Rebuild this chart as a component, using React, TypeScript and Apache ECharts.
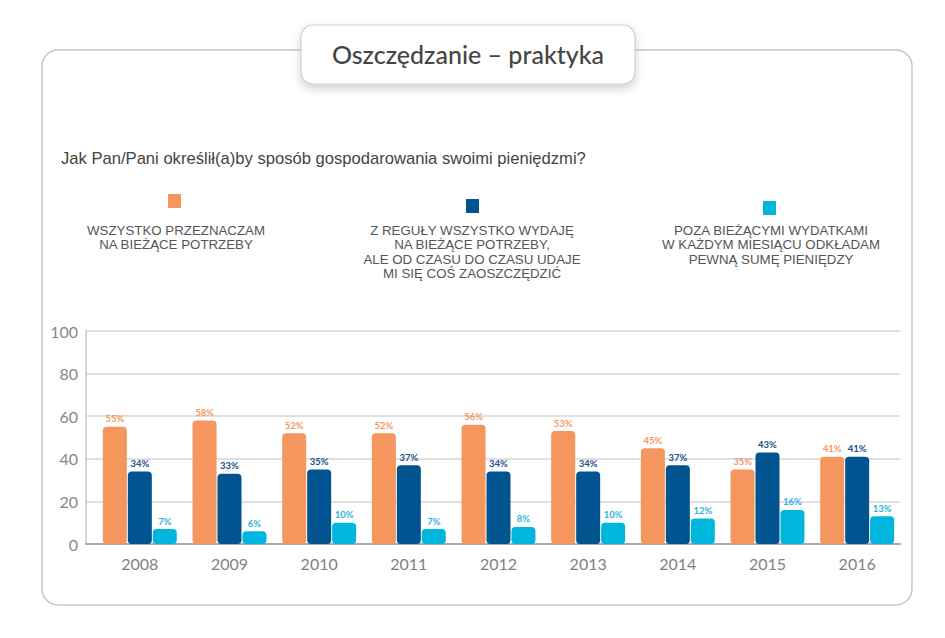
import React, { useEffect, useRef } from "react";
import * as echarts from "echarts";

const years = ["2008", "2009", "2010", "2011", "2012", "2013", "2014", "2015", "2016"];
const wszystko = [55, 58, 52, 52, 56, 53, 45, 35, 41];
const zReguly = [34, 33, 35, 37, 34, 34, 37, 43, 41];
const poza = [7, 6, 10, 7, 8, 10, 12, 16, 13];
const yTicks = [0, 20, 40, 60, 80, 100];

const seriesNames = [
  "WSZYSTKO PRZEZNACZAM\nNA BIEŻĄCE POTRZEBY",
  "Z REGUŁY WSZYSTKO WYDAJĘ\nNA BIEŻĄCE POTRZEBY,\nALE OD CZASU DO CZASU UDAJE\nMI SIĘ COŚ ZAOSZCZĘDZIĆ",
  "POZA BIEŻĄCYMI WYDATKAMI\nW KAŻDYM MIESIĄCU ODKŁADAM\nPEWNĄ SUMĘ PIENIĘDZY",
];
const seriesData = [wszystko, zReguly, poza];
const colors = ["#F4965E", "#01548F", "#00B6DD"];
const labelColors = ["#F4965E", "#1B4E8C", "#29B3E0"];

const titleText = "Oszczędzanie – praktyka";
const questionText = "Jak Pan/Pani określił(a)by sposób gospodarowania swoimi pieniędzmi?";

const legendPos = [
  { sx: 168, sy: 194, tx: 176 },
  { sx: 466, sy: 199, tx: 472 },
  { sx: 763, sy: 201, tx: 771 },
];

export default function App() {
  const ref = useRef<HTMLDivElement>(null);
  useEffect(() => {
    if (!ref.current) return;
    const chart = echarts.init(ref.current, undefined, { renderer: "svg" });
    const legendGraphics: any[] = [];
    seriesNames.forEach((name, i) => {
      legendGraphics.push({
        type: "rect",
        shape: { x: legendPos[i].sx, y: legendPos[i].sy, width: 13, height: 14 },
        style: { fill: colors[i] },
      });
      legendGraphics.push({
        type: "text",
        x: legendPos[i].tx,
        y: 223,
        style: {
          text: name,
          fill: "#555555",
          font: "13.3px 'Liberation Sans', sans-serif",
          textAlign: "center",
          textVerticalAlign: "top",
          lineHeight: 14.5,
        },
      });
    });

    chart.setOption({
      animation: false,
      backgroundColor: "#ffffff",
      graphic: [
        {
          type: "rect",
          z: 0,
          shape: { x: 42, y: 50, width: 870, height: 555, r: 16 },
          style: { fill: "#ffffff", stroke: "#c6c6c9", lineWidth: 1.5 },
        },
        {
          type: "rect",
          z: 1,
          shape: { x: 301, y: 25, width: 334, height: 59, r: 12 },
          style: {
            fill: "#ffffff",
            stroke: "#cfcfd2",
            lineWidth: 1.2,
            shadowBlur: 10,
            shadowColor: "rgba(0,0,0,0.18)",
            shadowOffsetY: 4,
          },
        },
        {
          type: "text",
          z: 2,
          x: 468,
          y: 54,
          style: {
            text: titleText,
            fill: "#454545",
            font: "500 25px Lato, sans-serif",
            textAlign: "center",
            textVerticalAlign: "middle",
          },
        },
        {
          type: "text",
          z: 2,
          x: 61,
          y: 158,
          style: {
            text: questionText,
            fill: "#444444",
            font: "16.6px 'Liberation Sans', sans-serif",
            textVerticalAlign: "middle",
          },
        },
        ...legendGraphics,
      ],
      grid: [
        { left: 86, right: 45, top: 331, height: 213 },
        { left: 95, width: 807, top: 331, height: 213 },
      ],
      xAxis: [
        {
          type: "category",
          gridIndex: 0,
          data: years,
          axisLine: { show: true, lineStyle: { color: "#a9a9ad", width: 2 } },
          axisTick: { show: false },
          axisLabel: { show: false },
          splitLine: { show: false },
          z: 3,
        },
        {
          type: "category",
          gridIndex: 1,
          data: years,
          axisLine: { show: false },
          axisTick: { show: false },
          axisLabel: {
            color: "#7f7f85",
            fontSize: 16,
            fontFamily: "Lato, sans-serif",
            margin: 11,
          },
        },
      ],
      yAxis: [
        {
          type: "value",
          gridIndex: 0,
          min: yTicks[0],
          max: yTicks[yTicks.length - 1],
          interval: 20,
          axisLine: { show: true, lineStyle: { color: "#c9c9cc", width: 1.5 } },
          axisTick: { show: false },
          axisLabel: {
            color: "#86868b",
            fontSize: 16,
            fontFamily: "Lato, sans-serif",
            margin: 8,
          },
          splitLine: { show: true, lineStyle: { color: "#d6d6da", width: 1.5 } },
        },
        {
          type: "value",
          gridIndex: 1,
          min: yTicks[0],
          max: yTicks[yTicks.length - 1],
          interval: 20,
          show: false,
          splitLine: { show: false },
        },
      ],
      series: seriesData.map((d, i) => ({
        type: "bar",
        name: seriesNames[i],
        xAxisIndex: 1,
        yAxisIndex: 1,
        data: d,
        barWidth: 24,
        barGap: "4%",
        z: 4,
        itemStyle: { color: colors[i], borderRadius: 4 },
        label: {
          show: true,
          position: "top",
          distance: 3,
          formatter: "{c}%",
          color: labelColors[i],
          fontSize: 9.5,
          fontWeight: "bold",
          fontFamily: "Lato, sans-serif",
        },
      })),
    });
    return () => chart.dispose();
  }, []);
  return (
    <div
      ref={ref}
      style={{ position: "fixed", left: 0, top: 0, width: 945, height: 638 }}
    />
  );
}
